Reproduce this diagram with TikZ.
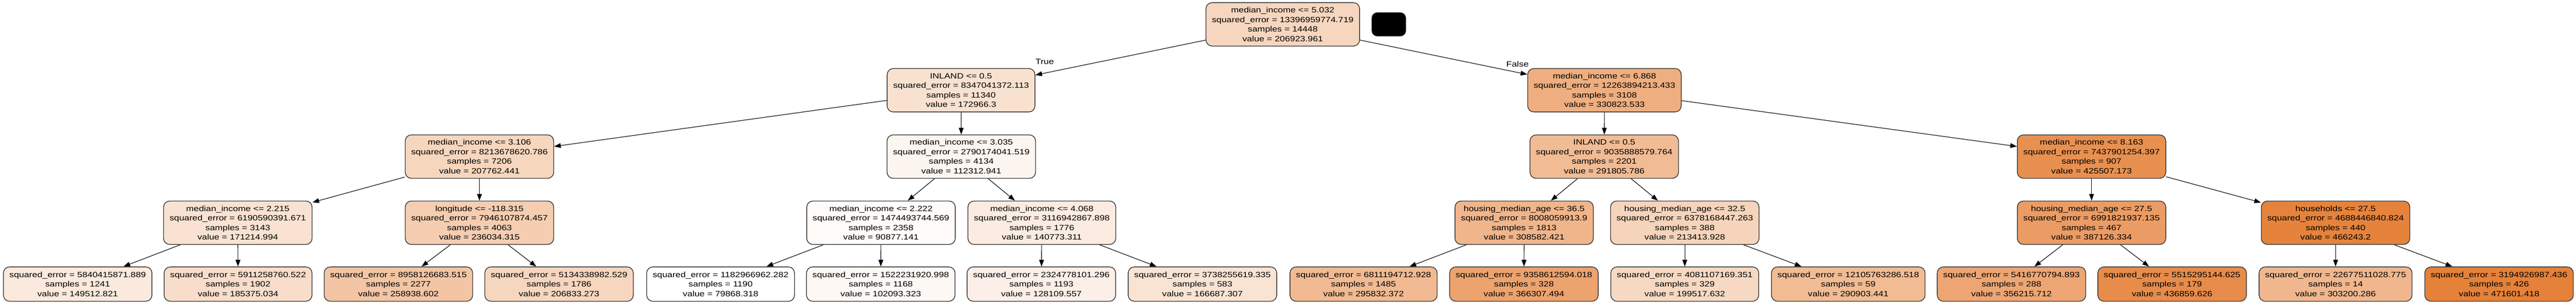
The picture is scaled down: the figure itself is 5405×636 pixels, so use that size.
\documentclass[tikz,border=0pt]{standalone}
\usepackage{fontspec}
\setmainfont{Liberation Sans}[FakeStretch=1.2]
\usetikzlibrary{arrows.meta}
\definecolor{c0}{RGB}{247,214,191}
\definecolor{c1}{RGB}{249,225,208}
\definecolor{c2}{RGB}{238,174,128}
\definecolor{cA}{RGB}{247,214,190}
\definecolor{cB}{RGB}{253,245,239}
\definecolor{cC}{RGB}{241,187,148}
\definecolor{cD}{RGB}{232,144,80}
\definecolor{cAa}{RGB}{249,226,209}
\definecolor{cAb}{RGB}{245,205,176}
\definecolor{cBa}{RGB}{254,251,249}
\definecolor{cBb}{RGB}{251,235,224}
\definecolor{cCa}{RGB}{240,181,139}
\definecolor{cCb}{RGB}{246,212,187}
\definecolor{cDa}{RGB}{235,156,100}
\definecolor{cDb}{RGB}{229,131,60}
\definecolor{lA}{RGB}{250,233,220}
\definecolor{lB}{RGB}{248,221,202}
\definecolor{lC}{RGB}{243,197,164}
\definecolor{lD}{RGB}{247,214,191}
\definecolor{lE}{RGB}{255,255,255}
\definecolor{lF}{RGB}{254,248,244}
\definecolor{lG}{RGB}{252,239,231}
\definecolor{lH}{RGB}{249,227,211}
\definecolor{lI}{RGB}{241,186,146}
\definecolor{lJ}{RGB}{236,163,110}
\definecolor{lK}{RGB}{247,217,195}
\definecolor{lL}{RGB}{241,187,148}
\definecolor{lM}{RGB}{237,166,115}
\definecolor{lN}{RGB}{231,140,75}
\definecolor{lO}{RGB}{240,183,142}
\definecolor{lP}{RGB}{229,129,57}
\begin{document}
\begin{tikzpicture}[x=1pt,y=-1pt,
  tn/.style={draw=black!80, line width=1.5pt, rounded corners=13pt, align=center,
    inner xsep=12.5pt, inner ysep=0pt, minimum height=91pt,
    font=\fontsize{16}{20}\selectfont},
  lf/.style={tn, minimum height=72pt},
  ed/.style={-{Triangle[length=14pt,width=10pt]}, line width=1.2pt},
  lbl/.style={inner sep=0pt, font=\fontsize{16}{20}\selectfont}]
\fill[white] (0,0) rectangle (5405,636);
\useasboundingbox (0,0) rectangle (5405,636);
% root and black box
\node[tn, fill=c0] (n0) at (2691.5,51) {median\_income <= 5.032\\squared\_error = 13396959774.719\\samples = 14448\\value = 206923.961};
\node[fill=black, rounded corners=12pt, minimum width=72pt, minimum height=50pt, inner sep=0pt] (blk) at (2914,51) {};
% level 1
\node[tn, fill=c1] (n1) at (2016.5,189) {INLAND <= 0.5\\squared\_error = 8347041372.113\\samples = 11340\\value = 172966.3};
\node[tn, fill=c2] (n2) at (3366.5,189) {median\_income <= 6.868\\squared\_error = 12263894213.433\\samples = 3108\\value = 330823.533};
% level 2
\node[tn, fill=cA] (nA) at (1006,328) {median\_income <= 3.106\\squared\_error = 8213678620.786\\samples = 7206\\value = 207762.441};
\node[tn, fill=cB] (nB) at (2017,328) {median\_income <= 3.035\\squared\_error = 2790174041.519\\samples = 4134\\value = 112312.941};
\node[tn, fill=cC] (nC) at (3366,328) {INLAND <= 0.5\\squared\_error = 9035888579.764\\samples = 2201\\value = 291805.786};
\node[tn, fill=cD] (nD) at (4388.5,328) {median\_income <= 8.163\\squared\_error = 7437901254.397\\samples = 907\\value = 425507.173};
% level 3
\node[tn, fill=cAa] (nA1) at (499,466.5) {median\_income <= 2.215\\squared\_error = 6190590391.671\\samples = 3143\\value = 171214.994};
\node[tn, fill=cAb] (nA2) at (1006,466.5) {longitude <= -118.315\\squared\_error = 7946107874.457\\samples = 4063\\value = 236034.315};
\node[tn, fill=cBa] (nB1) at (1848.5,466.5) {median\_income <= 2.222\\squared\_error = 1474493744.569\\samples = 2358\\value = 90877.141};
\node[tn, fill=cBb] (nB2) at (2186,466.5) {median\_income <= 4.068\\squared\_error = 3116942867.898\\samples = 1776\\value = 140773.311};
\node[tn, fill=cCa] (nC1) at (3198,466.5) {housing\_median\_age <= 36.5\\squared\_error = 8008059913.9\\samples = 1813\\value = 308582.421};
\node[tn, fill=cCb] (nC2) at (3535,466.5) {housing\_median\_age <= 32.5\\squared\_error = 6378168447.263\\samples = 388\\value = 213413.928};
\node[tn, fill=cDa] (nD1) at (4388.5,466.5) {housing\_median\_age <= 27.5\\squared\_error = 6991821937.135\\samples = 467\\value = 387126.334};
\node[tn, fill=cDb] (nD2) at (4900.5,466.5) {households <= 27.5\\squared\_error = 4688446840.824\\samples = 440\\value = 466243.2};
% leaves
\node[lf, fill=lA] (l1) at (163,595) {squared\_error = 5840415871.889\\samples = 1241\\value = 149512.821};
\node[lf, fill=lB] (l2) at (499.5,595) {squared\_error = 5911258760.522\\samples = 1902\\value = 185375.034};
\node[lf, fill=lC] (l3) at (836,595) {squared\_error = 8958126683.515\\samples = 2277\\value = 258938.602};
\node[lf, fill=lD] (l4) at (1173,595) {squared\_error = 5134338982.529\\samples = 1786\\value = 206833.273};
\node[lf, fill=lE] (l5) at (1512,595) {squared\_error = 1182966962.282\\samples = 1190\\value = 79868.318};
\node[lf, fill=lF] (l6) at (1848,595) {squared\_error = 1522231920.998\\samples = 1168\\value = 102093.323};
\node[lf, fill=lG] (l7) at (2185,595) {squared\_error = 2324778101.296\\samples = 1193\\value = 128109.557};
\node[lf, fill=lH] (l8) at (2523,595) {squared\_error = 3738255619.335\\samples = 583\\value = 166687.307};
\node[lf, fill=lI] (l9) at (2861,595) {squared\_error = 6811194712.928\\samples = 1485\\value = 295832.372};
\node[lf, fill=lJ] (l10) at (3197.5,595) {squared\_error = 9358612594.018\\samples = 328\\value = 366307.494};
\node[lf, fill=lK] (l11) at (3535,595) {squared\_error = 4081107169.351\\samples = 329\\value = 199517.632};
\node[lf, fill=lL] (l12) at (3878,595) {squared\_error = 12105763286.518\\samples = 59\\value = 290903.441};
\node[lf, fill=lM] (l13) at (4220.5,595) {squared\_error = 5416770794.893\\samples = 288\\value = 356215.712};
\node[lf, fill=lN] (l14) at (4557.5,595) {squared\_error = 5515295144.625\\samples = 179\\value = 436859.626};
\node[lf, fill=lO] (l15) at (4900.5,595) {squared\_error = 22677511028.775\\samples = 14\\value = 303200.286};
\node[lf, fill=lP] (l16) at (5243.5,595) {squared\_error = 3194926987.436\\samples = 426\\value = 471601.418};
% edge labels
\node[lbl] (tl) at (2192,129) {True};
\node[lbl] (fl) at (3184,134) {False};
% edges
\draw[ed] (n0) -- (n1);
\draw[ed] (n0) -- (n2);
\draw[ed] (n1) -- (nA);
\draw[ed] (n1) -- (nB);
\draw[ed] (n2) -- (nC);
\draw[ed] (n2) -- (nD);
\draw[ed] (nA) -- (nA1);
\draw[ed] (nA) -- (nA2);
\draw[ed] (nB) -- (nB1);
\draw[ed] (nB) -- (nB2);
\draw[ed] (nC) -- (nC1);
\draw[ed] (nC) -- (nC2);
\draw[ed] (nD) -- (nD1);
\draw[ed] (nD) -- (nD2);
\draw[ed] (nA1) -- (l1);
\draw[ed] (nA1) -- (l2);
\draw[ed] (nA2) -- (l3);
\draw[ed] (nA2) -- (l4);
\draw[ed] (nB1) -- (l5);
\draw[ed] (nB1) -- (l6);
\draw[ed] (nB2) -- (l7);
\draw[ed] (nB2) -- (l8);
\draw[ed] (nC1) -- (l9);
\draw[ed] (nC1) -- (l10);
\draw[ed] (nC2) -- (l11);
\draw[ed] (nC2) -- (l12);
\draw[ed] (nD1) -- (l13);
\draw[ed] (nD1) -- (l14);
\draw[ed] (nD2) -- (l15);
\draw[ed] (nD2) -- (l16);
\end{tikzpicture}
\end{document}
